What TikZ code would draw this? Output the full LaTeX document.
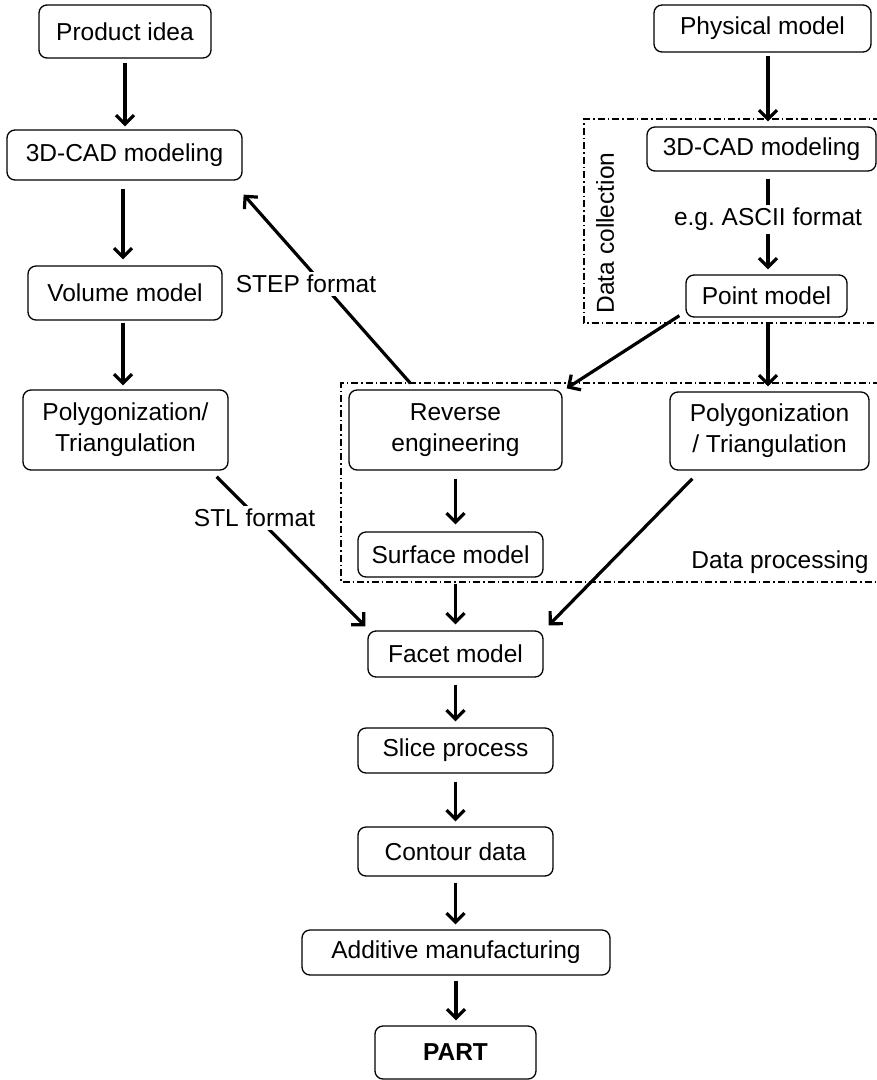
\documentclass[tikz,border=0pt]{standalone}
\usepackage{fontspec}
\setmainfont{Liberation Sans}
\usetikzlibrary{arrows.meta}
\begin{document}
\begin{tikzpicture}[x=1pt,y=-1pt,
  font=\fontsize{24.5}{31}\selectfont,
  box/.style={draw, line width=1.3pt, rounded corners=8pt, inner sep=0pt, align=center},
  arr/.style={line width=3.2pt, -{Straight Barb[length=9pt,width=18pt]}},
  lbl/.style={fill=white, inner sep=3pt},
  frame/.style={line width=1.2pt, dash pattern=on 7pt off 3pt on 1.5pt off 3pt}]
\useasboundingbox (0,0) rectangle (877,1080);

% dash-dot frames of the reverse-engineering branch
\draw[frame] (880,119) -- (584,119) -- (584,323) -- (880,323);
\draw[frame] (880,383) -- (341,383) -- (341,582) -- (880,582);
\node[rotate=90] (collect) at (605,233) {Data collection};
\node (process) at (780,562) {Data processing};

% boxes
\node[box, minimum width=172pt, minimum height=53pt] (idea) at (125,31.5) {Product idea};
\node[box, minimum width=235pt, minimum height=50pt] (cadL) at (124.5,155) {3D-CAD modeling};
\node[box, minimum width=194pt, minimum height=54pt] (vol) at (125,293) {Volume model};
\node[box, minimum width=205pt, minimum height=80pt] (polyL) at (125.5,430) {Polygonization/\\Triangulation};

\node[box, minimum width=217pt, minimum height=47pt] (phys) at (762.5,28.5) {Physical model};
\node[box, minimum width=229pt, minimum height=44pt] (cadR) at (761.5,149) {3D-CAD modeling};
\node[box, minimum width=161pt, minimum height=42pt] (point) at (766.5,296) {Point model};
\node[box, minimum width=213pt, minimum height=80pt] (rev) at (455.5,430) {Reverse\\engineering};
\node[box, minimum width=199pt, minimum height=78pt] (polyR) at (769.5,431) {Polygonization\\/ Triangulation};
\node[box, minimum width=185pt, minimum height=45pt] (surf) at (450.5,554.5) {Surface model};

\node[box, minimum width=175pt, minimum height=46pt] (facet) at (455.5,654) {Facet model};
\node[box, minimum width=195pt, minimum height=45pt] (slice) at (455.5,750.5) {Slice process};
\node[box, minimum width=195pt, minimum height=49pt] (contour) at (455.5,851.5) {Contour data};
\node[box, minimum width=308pt, minimum height=45pt] (additive) at (456,952.5) {Additive manufacturing};
\node[box, minimum width=161pt, minimum height=53pt] (part) at (455.5,1052.5) {\bfseries PART};

% left chain
\draw[arr] ([yshift=-4pt]idea.south) -- ([yshift=3pt]idea.south |- cadL.north);
\draw[arr] ([xshift=-1.5pt,yshift=-8pt]cadL.south) -- ([xshift=-1.5pt,yshift=6pt]cadL.south |- vol.north);
\draw[arr] ([xshift=-2pt,yshift=-2pt]vol.south) -- ([xshift=-2pt,yshift=4pt]vol.south |- polyL.north);

% right chain
\draw[arr] ([xshift=5.5pt,yshift=-3pt]phys.south) -- ([xshift=5.5pt,yshift=5pt]phys.south |- cadR.north);
\draw[arr] ([xshift=6.5pt,yshift=-7pt]cadR.south) -- ([xshift=6.5pt,yshift=5pt]cadR.south |- point.north)
  node[lbl, pos=0.45] (ascii) {e.g.\ ASCII format};
\draw[arr] ([xshift=1.5pt,yshift=-5pt]point.south) -- ([xshift=1.5pt,yshift=5pt]point.south |- polyR.north);
\draw[arr] ([xshift=-6pt,yshift=2pt]point.south west) -- ([xshift=4pt,yshift=1pt]rev.north east);

% reverse engineering branch
\draw[arr] ([xshift=-45pt,yshift=6pt]rev.north) -- ([xshift=1pt,yshift=-14pt]cadL.south east);
\draw[arr] ([yshift=-8pt]rev.south) -- ([yshift=7pt]rev.south |- surf.north);
\draw[arr] ([xshift=5pt,yshift=-6pt]surf.south) -- ([xshift=5pt,yshift=6pt]surf.south |- facet.north);
\draw[arr] ([xshift=23pt,yshift=-8pt]polyR.south west) -- ([xshift=5pt,yshift=5pt]facet.north east);
\draw[arr] ([xshift=-12pt,yshift=-6pt]polyL.south east) -- ([xshift=-2pt,yshift=4pt]facet.north west);

% format labels sitting on the diagonal connectors
\node[lbl] (step) at (306,284) {STEP format};
\node[lbl] (stl) at (254.5,518) {STL format};

% lower chain
\draw[arr] ([yshift=-7pt]facet.south) -- ([yshift=6pt]facet.south |- slice.north);
\draw[arr] ([yshift=-8pt]slice.south) -- ([yshift=5pt]slice.south |- contour.north);
\draw[arr] ([yshift=-6pt]contour.south) -- ([yshift=5pt]contour.south |- additive.north);
\draw[arr] ([yshift=-5pt]additive.south) -- ([yshift=5pt]additive.south |- part.north);
\end{tikzpicture}
\end{document}
